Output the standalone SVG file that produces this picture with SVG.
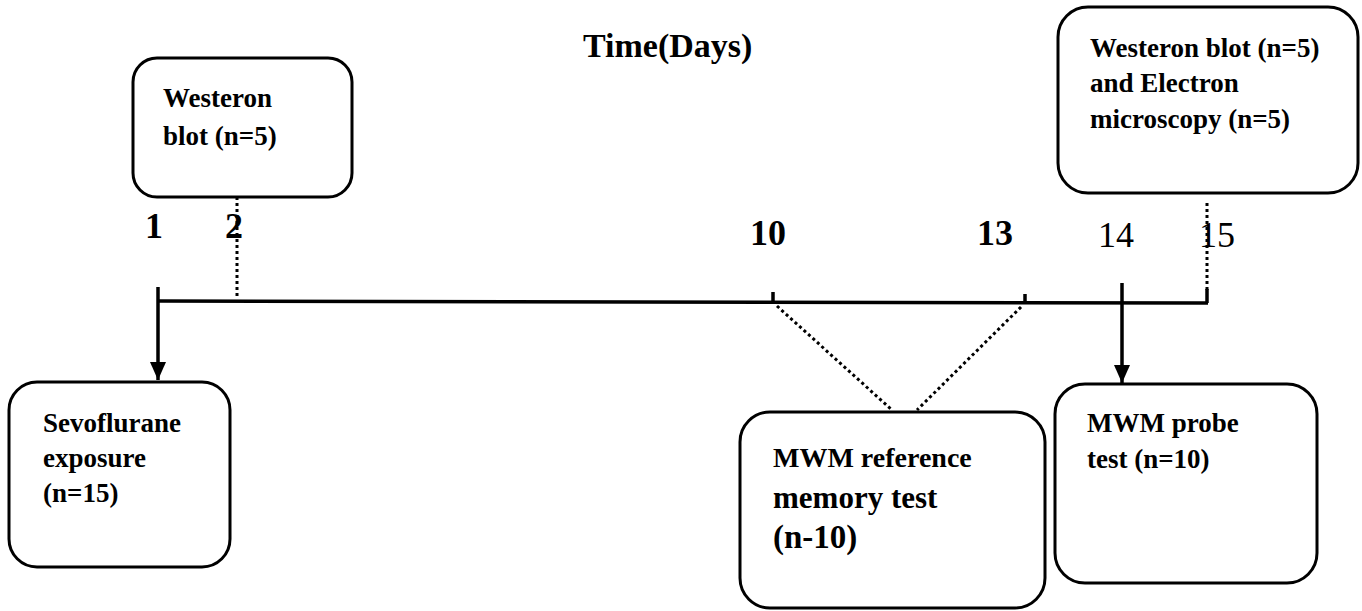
<svg xmlns="http://www.w3.org/2000/svg" width="1362" height="611" viewBox="0 0 1362 611">
<style>
.box{fill:#fff;stroke:#000;stroke-width:3}
.t{font-family:"Liberation Serif","Times New Roman",serif;font-weight:bold;font-size:27px;fill:#000}
.num{font-family:"Liberation Serif","Times New Roman",serif;font-size:36px;fill:#000}
.b{font-weight:bold}
.solid{stroke:#000;stroke-width:3.5;fill:none}
.dot{stroke:#000;stroke-width:3;fill:none;stroke-dasharray:3 3}
</style>
<defs>
<marker id="ah" markerWidth="18" markerHeight="16" refX="18" refY="8" orient="auto" markerUnits="userSpaceOnUse" viewBox="0 0 18 16">
<path d="M0,0 L18,8 L0,16 Z" fill="#000"/>
</marker>
</defs>
<rect width="1362" height="611" fill="#fff"/>
<text class="t" x="583" y="57" style="font-size:34px">Time(Days)</text>
<g id="timeline">
<text class="num b" x="145" y="238">1</text>
<text class="num b" x="225" y="238">2</text>
<text class="num b" x="750" y="245">10</text>
<text class="num b" x="977" y="245">13</text>
<text class="num" x="1098" y="247">14</text>
<text class="num" x="1199" y="247">15</text>
</g>
<g id="connectors">
<path class="solid" d="M158,301 L1208,303"/>
<path class="solid" d="M158,287 L158,301"/>
<path class="solid" d="M773,292 L773,301"/>
<path class="solid" d="M1025,294 L1025,303"/>
<path class="solid" d="M1207,289 L1207,303"/>
<path class="solid" d="M158,301 L158,380" stroke-width="3" marker-end="url(#ah)"/>
<path class="solid" d="M1122,283 L1122,383" stroke-width="3" marker-end="url(#ah)"/>
<path class="dot" d="M237,197 L237,297"/>
<path class="dot" d="M1207,203 L1207,290"/>
<path class="dot" d="M777,306 L892,410"/>
<path class="dot" d="M1021,307 L917,410"/>
</g>
<g id="n-westeron-day2">
<rect class="box" x="133" y="58" width="219" height="139" rx="24"/>
<text class="t" x="163" y="107">Westeron</text>
<text class="t" x="163" y="145">blot (n=5)</text>
</g>
<g id="n-westeron-day15">
<rect class="box" x="1058" y="7" width="300" height="186" rx="30"/>
<text class="t" x="1090" y="57">Westeron blot (n=5)</text>
<text class="t" x="1090" y="92">and Electron</text>
<text class="t" x="1090" y="128">microscopy (n=5)</text>
</g>
<g id="n-sevoflurane">
<rect class="box" x="9" y="382" width="221" height="185" rx="28"/>
<text class="t" x="43" y="432">Sevoflurane</text>
<text class="t" x="43" y="467">exposure</text>
<text class="t" x="43" y="502">(n=15)</text>
</g>
<g id="n-mwm-reference">
<rect class="box" x="740" y="412" width="305" height="196" rx="30"/>
<text class="t" x="773" y="467" style="font-size:28px">MWM reference</text>
<text class="t" x="773" y="508" style="font-size:31px">memory test</text>
<text class="t" x="773" y="548" style="font-size:33px">(n-10)</text>
</g>
<g id="n-mwm-probe">
<rect class="box" x="1055" y="384" width="262" height="199" rx="30"/>
<text class="t" x="1087" y="432">MWM probe</text>
<text class="t" x="1087" y="468">test (n=10)</text>
</g>
</svg>
